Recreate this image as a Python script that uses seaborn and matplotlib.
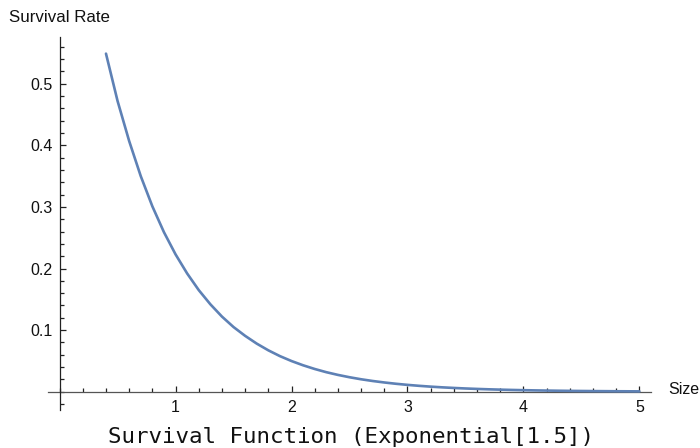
import matplotlib
matplotlib.use("Agg")
import matplotlib.pyplot as plt
from matplotlib.ticker import MultipleLocator, FixedLocator
import seaborn as sns
import pandas as pd

# Survival rate S(x) for an exponential size distribution with rate 1.5
size = [0.4, 0.5, 0.6, 0.7, 0.8, 0.9, 1.0, 1.1, 1.2, 1.3, 1.4, 1.5, 1.6, 1.7,
        1.8, 1.9, 2.0, 2.1, 2.2, 2.3, 2.4, 2.5, 2.6, 2.7, 2.8, 2.9, 3.0, 3.1,
        3.2, 3.3, 3.4, 3.5, 3.6, 3.7, 3.8, 3.9, 4.0, 4.1, 4.2, 4.3, 4.4, 4.5,
        4.6, 4.7, 4.8, 4.9, 5.0]
survival = [0.549, 0.472, 0.407, 0.350, 0.301, 0.259, 0.223, 0.192, 0.165,
            0.142, 0.122, 0.105, 0.0907, 0.0781, 0.0672, 0.0578, 0.0498,
            0.0429, 0.0369, 0.0317, 0.0273, 0.0235, 0.0202, 0.0174, 0.0150,
            0.0129, 0.0111, 0.00956, 0.00823, 0.00708, 0.00610, 0.00525,
            0.00452, 0.00389, 0.00335, 0.00288, 0.00248, 0.00213, 0.00184,
            0.00158, 0.00136, 0.00117, 0.00101, 0.00087, 0.00075, 0.00064,
            0.00055]
x_ticks = [1, 2, 3, 4, 5]
y_ticks = [0.1, 0.2, 0.3, 0.4, 0.5]

sns.set_style("ticks")
plt.rcParams["font.family"] = ["Liberation Sans", "DejaVu Sans"]

df = pd.DataFrame({"Size": size, "Survival Rate": survival})

fig = plt.figure(figsize=(7.0, 4.48), dpi=100)
ax = fig.add_axes([48 / 700, 1 - 410 / 448, (651 - 48) / 700, (410 - 37) / 448])

sns.lineplot(data=df, x="Size", y="Survival Rate", ax=ax,
             color="#5E81B5", linewidth=1.9)

ax.set_xlim(-0.10, 5.10)
ax.set_ylim(-0.0297, 0.576)

# Axes cross at the origin
for side in ("top", "right"):
    ax.spines[side].set_visible(False)
ax.spines["left"].set_position(("data", 0))
ax.spines["bottom"].set_position(("data", 0))
ax.spines["left"].set_color("#222222")
ax.spines["bottom"].set_color("#555555")
for side in ("left", "bottom"):
    ax.spines[side].set_linewidth(0.9)
ax.spines["bottom"].set_zorder(1)

ax.xaxis.set_major_locator(FixedLocator(x_ticks))
ax.yaxis.set_major_locator(FixedLocator(y_ticks))
ax.xaxis.set_minor_locator(MultipleLocator(0.2))
ax.yaxis.set_minor_locator(MultipleLocator(0.02))
ax.set_xticklabels([str(v) for v in x_ticks])
ax.set_yticklabels([f"{v:g}" for v in y_ticks])

ax.tick_params(which="both", direction="in", color="#222222", width=0.9,
               bottom=True, left=True, top=False, right=False,
               labelsize=11.5, labelcolor="#111111")
ax.tick_params(which="major", length=4.5)
ax.tick_params(which="minor", length=2.6)
ax.tick_params(axis="x", which="major", pad=6)
ax.tick_params(axis="y", which="major", pad=5)

ax.set_xlabel("")
ax.set_ylabel("")
fig.text(668 / 700, 1 - 389 / 448, "Size", fontsize=11.5, ha="left",
         va="center", color="#111111")
fig.text(9 / 700, 1 - 18 / 448, "Survival Rate", fontsize=12.2, ha="left",
         va="center", color="#111111")
fig.text(351 / 700, 1 - 437 / 448, "Survival Function (Exponential[1.5])",
         fontsize=16.2, family="DejaVu Sans Mono", ha="center", va="center",
         color="#111111")

fig.savefig("out.png", dpi=100, facecolor="white")
